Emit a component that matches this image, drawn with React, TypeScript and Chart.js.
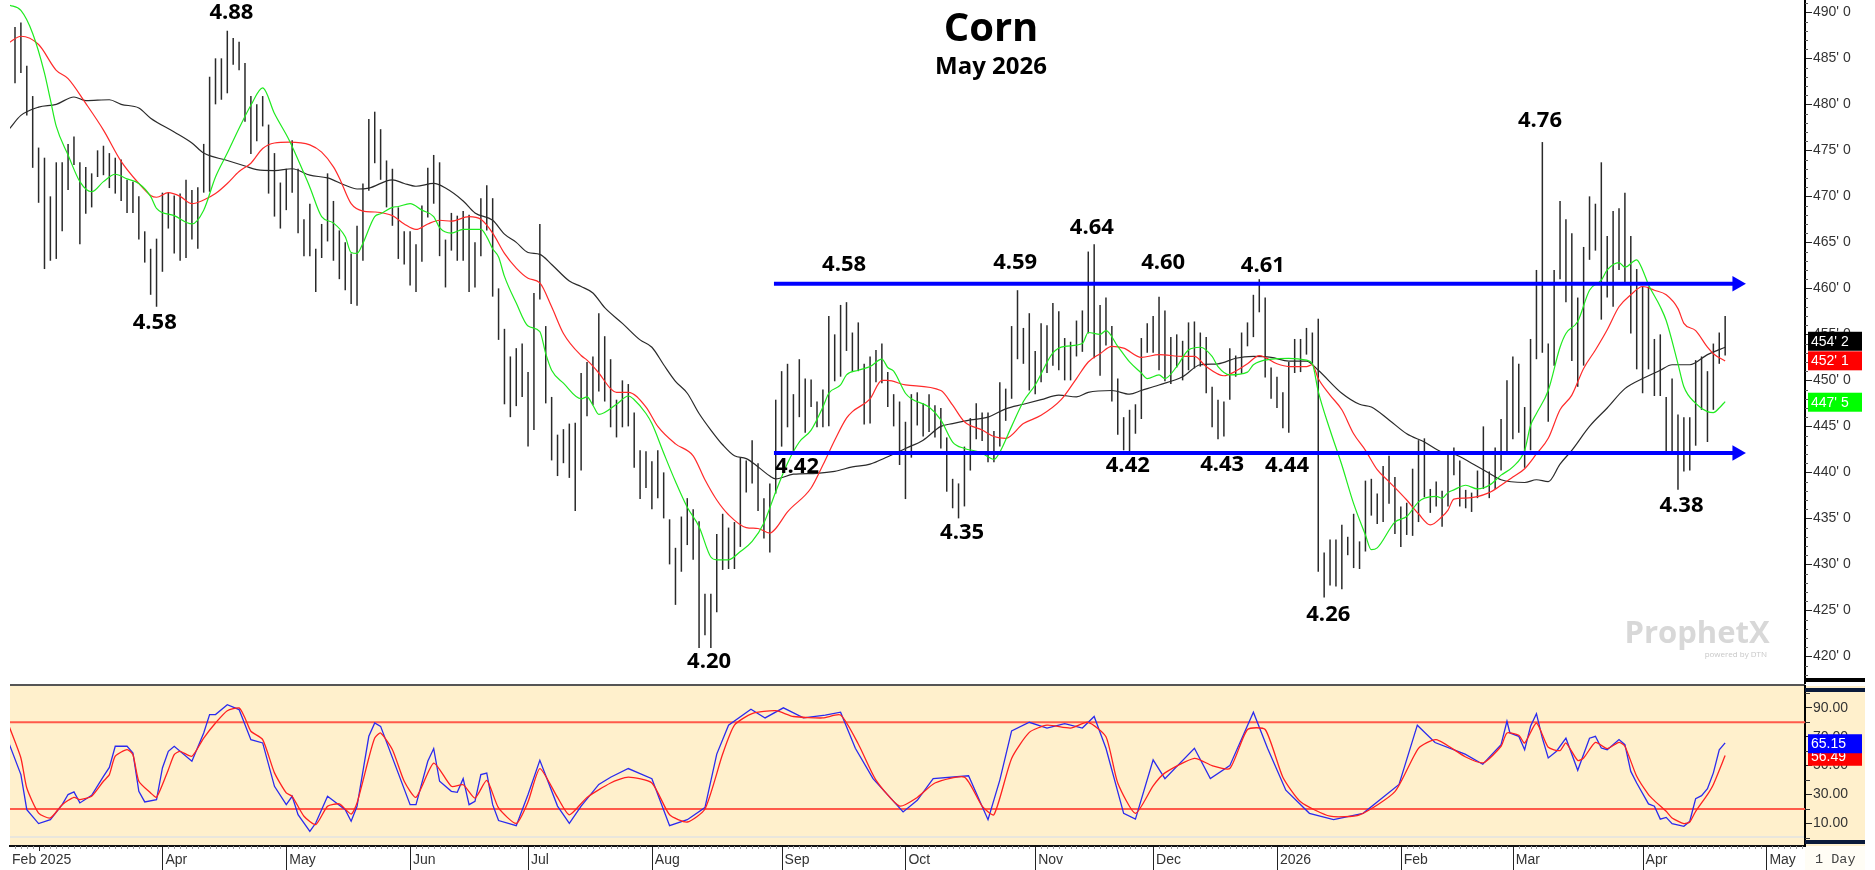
import React, { useEffect, useRef } from "react";
import { Chart, registerables } from "chart.js";

Chart.register(...registerables);

const barHighs = [
488.4,488.9,484.2,480.9,475.3,474.2,470.0,473.7,473.7,475.7,476.5,473.7,473.2,472.5,475.0,475.5,474.7,474.2,474.0,471.8,
471.6,470.0,466.2,464.3,465.4,470.4,470.4,470.1,470.3,471.8,470.7,471.0,475.7,483.0,485.0,485.0,488.0,487.2,486.8,484.5,
480.9,480.0,480.9,477.8,474.7,471.5,473.0,476.1,473.0,467.5,469.2,464.3,467.0,472.5,469.5,466.3,465.0,463.8,466.8,471.4,
478.4,479.2,477.3,473.9,473.0,468.8,466.2,466.2,464.8,469.0,473.1,474.5,473.7,465.3,468.2,467.9,468.4,468.0,465.0,469.8,
471.2,469.8,460.0,455.6,452.6,453.5,454.0,450.9,459.5,467.0,455.9,448.2,444.1,444.7,445.3,445.4,450.8,452.0,452.6,457.3,
454.8,452.3,447.9,450.0,449.6,446.5,442.4,442.3,441.2,442.4,440.0,434.9,431.8,435.2,437.2,436.0,434.7,426.8,426.8,433.3,
435.5,434.0,434.6,441.6,441.3,443.5,441.0,437.2,438.8,447.9,451.0,451.8,448.5,452.3,450.2,450.1,447.7,449.0,457.0,455.0,
458.2,458.5,455.2,456.3,451.8,452.6,453.3,454.0,450.9,448.5,447.7,445.5,448.5,448.7,447.5,448.5,447.3,447.0,443.8,439.3,
438.8,442.8,445.9,447.5,446.5,446.5,444.5,449.8,449.1,455.9,459.8,455.7,457.3,453.2,456.2,456.0,458.4,457.5,454.6,454.2,
456.5,457.6,464.0,464.8,458.2,459.0,455.9,450.2,446.0,446.8,447.4,454.6,456.2,457.0,459.1,457.6,454.7,455.0,454.3,456.3,
456.4,455.2,454.7,449.3,447.9,447.7,453.5,452.7,455.2,456.3,459.3,461.0,459.0,451.4,450.4,448.7,452.0,454.5,454.5,455.7,
455.2,456.7,431.3,432.7,432.7,434.3,433.0,435.5,432.5,439.1,439.3,437.7,440.7,441.8,439.5,436.3,436.7,440.4,443.5,443.7,
438.2,439.0,438.0,442.1,442.7,441.3,438.1,437.8,440.2,445.0,440.1,442.7,445.8,450.0,452.6,451.8,447.1,454.5,462.0,475.9,
454.0,462.0,469.5,467.5,466.0,459.0,464.5,470.0,469.2,473.7,465.7,468.4,468.7,470.4,465.7,462.1,460.2,460.2,454.5,455.0,
448.2,450.2,446.3,446.0,446.0,452.2,452.6,451.0,454.0,455.2,457.0];

const barLows = [
482.3,483.4,478.8,473.1,469.3,462.1,463.0,463.2,466.2,470.7,473.4,464.8,468.1,468.8,472.1,472.3,470.9,470.3,469.5,468.2,
468.2,465.3,462.8,459.3,458.0,461.8,466.5,463.8,463.0,463.3,465.3,464.3,470.4,470.5,480.0,480.5,481.2,484.3,483.7,478.1,
474.6,476.0,477.6,470.3,467.8,466.5,468.5,470.4,466.0,463.5,463.5,459.6,463.3,465.1,463.0,461.0,459.8,458.3,458.1,463.0,
470.6,473.6,471.8,468.8,466.8,463.2,462.6,460.3,459.6,462.9,467.7,469.2,463.5,460.1,464.1,463.0,463.0,459.6,460.1,463.5,
466.3,459.1,454.4,447.4,446.0,447.2,448.2,442.8,444.6,458.8,447.5,441.3,439.6,441.0,439.4,435.8,440.2,446.1,447.3,448.8,
447.7,444.9,443.8,444.9,445.0,440.5,437.1,438.3,436.0,437.2,435.0,430.0,425.6,429.2,432.1,430.5,420.9,422.3,420.9,424.8,
429.4,429.5,429.5,431.9,437.8,438.8,435.8,432.8,431.3,437.7,442.8,444.9,442.1,446.0,444.3,447.1,444.9,444.9,445.0,449.9,
450.4,453.2,451.0,451.0,445.2,445.3,449.8,449.7,447.1,445.0,440.8,437.1,441.6,445.1,443.9,444.4,443.8,442.6,437.9,436.1,
435.0,436.3,440.2,443.6,443.4,441.1,441.1,442.8,445.6,448.0,452.3,451.8,448.9,448.5,449.8,450.8,451.6,451.1,450.0,450.0,
452.6,453.1,455.1,452.4,450.5,453.8,447.7,444.1,442.4,442.3,444.2,445.8,453.0,453.0,451.1,449.9,449.6,451.4,450.0,451.1,
451.3,451.5,448.6,444.9,443.6,443.9,447.9,450.4,450.7,453.7,454.7,457.4,450.3,448.0,447.0,444.8,444.3,450.8,450.9,452.8,
451.8,429.2,426.4,427.7,427.6,427.3,431.0,429.6,429.5,431.4,435.3,434.4,434.6,436.6,433.3,431.9,433.2,433.1,434.6,437.3,
435.6,436.3,434.1,436.3,439.7,436.3,436.1,435.7,437.2,438.2,437.2,438.2,440.2,442.1,443.6,444.3,440.5,442.4,452.3,453.0,
445.5,451.6,461.0,458.5,452.1,449.3,451.6,463.1,464.1,456.6,459.0,458.0,462.0,460.7,455.1,451.2,448.6,451.2,448.3,448.3,
442.3,442.3,438.1,440.1,440.2,442.9,446.8,443.3,446.8,451.8,452.7];

const greenMA: [number, number][] = [
[-1,490.8],[1,490.2],[3,487.7],[5,483.4],[6,480.5],[7,477.6],[9,474.5],[11,471.6],[13,470.5],[15,471.6],[17,472.4],[19,471.9],[21,471.4],[23,470],[24,468.7],[27,467.9],[30,467],[32,468.5],[34,472.1],[36,474.7],[38,477.4],[40,479.9],[42,481.8],[44,479],[46.5,476.1],
[49,472.5],[50,471],[52,467.8],[54,467.1],[56,465.6],[57,463.9],[58,463.8],[59,464.9],[61,467.8],[62,468.1],[64,468.8],[65,468.9],[67,469.2],[69,468.5],[71,467.8],[72,466.6],[74,466],[76,466.4],[79,466.4],[80,465.6],[81,464.3],[82,463.4],[83,461.3],[85,458.4],[87,455.9],[89,455.3],[90,452.9],[91,451.1],[93,449.7],[96,448.0],
[97,448.2],[98,447.3],[99,446.3],[102,447.4],[104,448.3],[105,447.9],[107,446.4],[108,445.3],[110,442.1],[112,439],[114,436.2],[116,434.1],[118,430.8],[119,430.5],[121,430.5],[123,431.4],[125,432.5],[127,434.5],[129,437.9],[131,441],[133,443.3],[135,444.6],[137,447.1],[138,448.6],[140,449.5],[141,450.6],[143,451.1],[145,451.5],
[147,452.3],[148,451.4],[149,451],[151,448.6],[152,448],[155,447.1],[157,445.7],[159,443.3],[161,442.6],[163.6,442.2],[165,441.7],[166,441.4],[167,442.2],[169,445],[171,447.7],[173,449.5],[176,453],[178,453.7],[181,454],[182,455.2],[184,455],[185,455.4],[187,453.7],[189,452],[191,450.8],[192,450.2],[194,450.6],
[195,450.2],[197,451.5],[199,453.3],[201,453.6],[203,452.6],[204,451.5],[206,450.6],[209,450.9],[210,451.7],[213,452.3],[216,452.4],[219,452.2],[220,451.8],[221,448.8],[223,444.6],[225,440.8],[227,436.6],[229,433.2],[230,431.6],[231,431.8],[234,434.6],[236,435.2],[238,436.8],[239,437.2],[241,437.4],[242,437.2],[243,437.8],
[244,438.1],[246,438.6],[248,438.2],[250,438.6],[252,439.7],[254,440.6],[256,442.4],[257,445.1],[258,446.4],[260,448.9],[262,453.6],[263,455.1],[265,456.4],[267,459.8],[269,460.9],[270,462],[272,462.8],[273,462.3],[275,463.1],[276,462],[277,460.4],[279,458],[280,456.5],[282,451.8],[283,449.3],[285,447.5],[287,446.6],[288,446.5],[289,447],[290,447.7]];

const redMA: [number, number][] = [
[-1,486.7],[1,487.4],[4,486.5],[7,483.7],[9,482.8],[12,480.1],[15,477.2],[18,473.8],[21,471.4],[23,470.1],[24,469.9],[26,470.4],[28,470],[30,469.2],[32,469.6],[34,470.3],[36,471.4],[38,472.7],[40,473.6],[42,475.2],[44,475.8],[46.5,475.9],
[50,475.6],[52,474.8],[54,473.2],[55,472],[57,469.2],[59,468.4],[61,468.3],[64,467.9],[66,467],[68,466.4],[70,467],[72,467.4],[74,467.3],[77,467.8],[79,467.5],[81,466],[83,463.8],[85,462.2],[87,461.1],[89,460.6],[91,458],[93,455.1],[96,452.7],
[97,452.2],[99,450.8],[101,449.1],[102,448.7],[104,448.7],[107,447.1],[109,445],[112,443.1],[115,441.8],[117,439.2],[119,437],[121,435.4],[124,434],[126,433.9],[128,433.4],[129,433.9],[131,435.7],[135,438.3],[137,440.8],[139,443.5],[141,445.9],[142,446.6],[145,448],
[147,450],[148,450],[151,449.5],[157,448.9],[159,447.3],[161,445.5],[164,444.6],[166,443.9],[168,443.7],[171,445.3],[174,446.2],[177.4,447.9],[180,450.2],[182,452],[184,452.9],[186,453.7],[188,453.5],[191,452.5],[194,452.8],
[198,452.6],[200,452.6],[202,451.5],[205,450.5],[207,451],[209,451.8],[211,452.7],[214,451.8],[216,451.5],[219,451.5],[220,451.7],[221,450.2],[223,448.4],[225,446.8],[227,444.2],[229,442.4],[231,440.3],[233,439],[236,437],[238,435.5],[240,434.3],[242,435.2],[243,435.9],
[244,437.1],[246,437.2],[250,437.8],[252,438.6],[254,439.5],[256,440.4],[258,442],[260,443.7],[262,446.8],[264,448.4],[266,451.3],[268,453.3],[270,455.5],[272,458],[274,459.3],[276,460.2],[278,459.8],[280,459.3],[282,457.8],[283,456.2],[285,455.4],[287,453.6],[288,452.9],[290,452.1]];

const blackMA: [number, number][] = [
[-1,477.3],[1,478.8],[4,479.7],[7,480],[10,480.8],[12,480.4],[16,480.5],[18,480],[21,479.6],[23,478.5],[27,477],[30,475.8],[32,474.7],[36,473.9],[39,473.3],[41,472.9],[44,472.8],[47,473],
[50,472.3],[53,472],[56,471.2],[58,470.8],[60,470.9],[64,471.8],[66,471.4],[68,471.1],[71,471.4],[73,470.9],[76,469.5],[78,468.2],[81,467.4],[83,465.9],[85,465],[87,463.9],[89,463.7],[91,462.6],[94,460.8],[96,460.2],
[98,459.5],[100,457.9],[103,456.2],[106,454.4],[108,453.6],[110,451.7],[112,449.9],[114,448.6],[116,446.4],[118,444.6],[120,443],[122,441.8],[124,441.5],[126,440.6],[128,439.6],[129,439.3],[132,439.8],[136,439.9],[139,440.1],[142,440.6],[145,440.9],
[148,441.7],[151,442.6],[154,443.5],[157,445],[159,445.3],[162,445.7],[165,446],[168,446.9],[171,447.4],[174,447.9],[177,448.4],[180,448.2],[182,448.7],[186,448.9],[189,448.5],[191,448.9],[194,449.5],
[198,450.4],[201,451.7],[204,451.8],[207,452.4],[210,452.6],[213,452.5],[216,452.1],[219,452.1],[221,451.1],[225,448.6],[228,447.4],[230,447.1],[233,445.7],[236,444.2],[239,443.3],[242,442.2],[244,442],
[247,441],[250,439.9],[252,439.2],[256,438.9],[258,439.2],[260,439],[262,440.9],[264,442.4],[267,445],[270,447],[273,449.1],[276,450.2],[279,451.1],[281,451.7],[284,451.7],[287,452.8],[290,453.6]];

const stochK: [number, number][] = [
[-1,65.2],[1,43.8],[2,19.5],[4,9.9],[6,12.6],[8,23],[9,30],[10,31.8],[11,24.2],[13,29.5],[15,42.6],[16,48.8],[17,63.4],[19,63.4],[20,58.8],[21,32.2],[22,24.9],[24,26.5],[25,48.4],[26,59.9],[27,63.4],[30,53],[32,72.6],[33,85.3],[34,85.3],[36,92.2],[38,88.8],[40,68],[42,65.7],[44,35.7],[46,23],[47,28.8],[48,16.1],[50,4.6],[51,10.3],[53,28.8],[56,19.5],[57,11.5],[58,21.9],[60,70.3],[61,79.5],[62,77.2],[67,23],[68,23],[70,53],[71,61.8],[72,39.2],[74,32.2],[75,31.5],[76,41],[77,23],[78,25.3],[79,43.8],[80,44.9],[81,23],[82,12],
[85,8.5],[87,30],[89,53.7],[92,22],[94,10],[96,22],[99,37],[101,42],[104,48],[108,41],[111,8.5],[114,12.6],[117,21],[119,58],[121,78],[124.8,89],[127.2,83],[130.3,90],[133.7,83],[137.4,85],[140,87],[142.5,62],[145.5,41],[150.6,18],[153,26],[155.7,41],[161.7,43],[165,12.6],[167,40],[169,74],[172,80],[175,76],[178,79],[181,76],[183,84],[185,62],[188,17],[190,13],[193,54],[195,41],[200,62],[202.7,41],[206,50],[210,87],[212.4,62],[215.5,33],[219.5,17],[223.6,12.6],[228.6,17],[234.7,37],[237.8,78],[240.8,66],[245.9,58],[248.9,51],
[252,64.5],[253,80.7],[253.5,72.6],[255,70.3],[256,61],[257,77.2],[258,86],[259,69],[260,55.3],[261.4,60],[263,69],[265,46.8],[267,69],[268,70.3],[269,62.2],[270,61],[272,68],[273,64.5],[274,46],[275,38],[277,23.5],[278,21.9],[279,13],[280,14.2],[281,9.9],[283,8],[284,11.5],[285,27.2],[286,29.2],[287,34],[288,45],[289,61],[290,65.7]];

const stochD: [number, number][] = [
[-1,77.2],[1,55.3],[2,34.5],[4,17.2],[6,13.8],[8,23],[10,28.1],[11,26.5],[13,28.8],[15,39.2],[16,43.8],[17,56.5],[19,61.1],[20,57.6],[21,39.2],[23,31.1],[24,28.1],[26,47.2],[27,57.6],[28,59.9],[30,56.5],[32,69.1],[34,79.5],[36,88],[38,89.9],[39,83],[40,73.8],[42,68],[44,45],[46,31.1],[47,28.8],[49,15],[51,9.2],[53,21.9],[55,23.5],[57,16.5],[58,24.2],[60,55.3],[61,69.1],[62,72.6],[64,61],[66,39.2],[68,28.1],[71,51.8],[74,35.7],[76,36.8],[78,27.6],[80,39.8],[82,20.7],
[85,10],[87,25],[89,48],[92,28],[94,16],[97,28],[101,38],[104,42],[108,38],[111,16],[114,11],[117,20],[120,58],[122,78],[125,86],[129,88],[132,84],[137,83],[140,85],[143,65],[146,40],[150,22],[153,28],[156,38],[161,42],[164,22],[166,16],[169,55],[172,73],[175,78],[179,76],[182,80],[185,70],[187,38],[190,17],[193,36],[195,45],[200,55],[203,50],[206,48],[209,75],[212,75],[215,42],[218,25],[223,15],[228,16],[234,32],[238,62],[241,68],[246,56],[249,52],
[252,63.4],[253,72.6],[255,71],[256,65.7],[258,79.5],[260,62.7],[262,60.4],[263,65.7],[265,53.5],[266,55.3],[268,66.1],[270,61.8],[272,66.1],[273,63.4],[275,42.6],[277,30],[278,25.8],[280,18.4],[281,13.8],[283,9.9],[284,11],[285,18.4],[287,30],[288,37],[290,57]];

const priceTicks = [420,425,430,435,440,445,450,455,460,465,470,475,480,485,490];
const stochTicks = [10,30,50,70,90];
const stochMinorTicks = [0,20,40,60,80,100];
const stochLevels = [80,20];
const resistance = 460.5;
const support = 442.1;
const monthLabels = ["Feb 2025","Apr","May","Jun","Jul","Aug","Sep","Oct","Nov","Dec","2026","Feb","Mar","Apr","May"];
const monthIdx = [4,25,46,67,87,108,130,151,173,193,214,235,254,276,297];
const priceLabels: { text: string; i: number; p: number }[] = [
  { text: "4.88", i: 36.7, p: 490.0 },{ text: "4.58", i: 23.7, p: 456.3 },{ text: "4.20", i: 117.7, p: 419.4 },
  { text: "4.42", i: 132.6, p: 440.6 },{ text: "4.58", i: 140.6, p: 462.6 },{ text: "4.59", i: 169.6, p: 462.8 },
  { text: "4.64", i: 182.6, p: 466.6 },{ text: "4.60", i: 194.7, p: 462.8 },{ text: "4.61", i: 211.6, p: 462.5 },
  { text: "4.35", i: 160.6, p: 433.4 },{ text: "4.42", i: 188.7, p: 440.7 },{ text: "4.43", i: 204.7, p: 440.8 },
  { text: "4.44", i: 215.7, p: 440.7 },{ text: "4.26", i: 222.7, p: 424.5 },{ text: "4.76", i: 258.6, p: 478.2 },
  { text: "4.38", i: 282.6, p: 436.4 },
];
const priceBoxes = [
  { text: "452' 1", value: 452.125, bg: "#FF0000" },
  { text: "454' 2", value: 454.25, bg: "#000000" },
  { text: "447' 5", value: 447.625, bg: "#00FF00" },
];
const stochBoxes = [
  { text: "56.49", value: 56.49, bg: "#FF0000" },
  { text: "65.15", value: 65.15, bg: "#0000FF" },
];

const X_MIN = -0.848;
const X_MAX = 303.54;
const SANS = '"Liberation Sans", Arial, sans-serif';
const BOLD = '"Open Sans", "Noto Sans", sans-serif';
const pts = (a: [number, number][]) => a.map(([x, y]) => ({ x, y }));
const lineDs = (data: [number, number][], color: string, order: number, width = 1.2) => ({
  type: "line" as const, data: pts(data), borderColor: color, borderWidth: width, pointRadius: 0,
  tension: 0, cubicInterpolationMode: "monotone" as const, order,
});
const hLine = (y: number) => ({
  type: "line" as const,
  data: [{ x: 128.7, y }, { x: 292, y }],
  borderColor: "#0000FF", backgroundColor: "#0000FF", borderWidth: 4,
  pointRadius: [0, 9], pointStyle: "triangle", pointRotation: 90, pointBorderWidth: 0, order: 1,
});

const drawBox = (ctx: CanvasRenderingContext2D, y: number, text: string, bg: string) => {
  ctx.fillStyle = bg;
  ctx.fillRect(1808, y - 9.5, 54, 19);
  ctx.fillStyle = "#FFFFFF";
  ctx.font = `14px ${SANS}`;
  ctx.textAlign = "left";
  ctx.textBaseline = "middle";
  ctx.fillText(text, 1811, y + 0.5);
};

const topPlugin = {
  id: "topOverlay",
  beforeDatasetsDraw(chart: any) {
    const ctx = chart.ctx;
    ctx.save();
    ctx.textAlign = "center";
    ctx.textBaseline = "middle";
    ctx.fillStyle = "#D8D8D8";
    ctx.font = `bold 31px ${BOLD}`;
    ctx.fillText("ProphetX", 1697, 634);
    ctx.font = `8px ${BOLD}`;
    ctx.textAlign = "right";
    ctx.fillStyle = "#C8C8C8";
    ctx.fillText("powered by DTN", 1767, 655);
    ctx.restore();
  },
  afterDraw(chart: any) {
    const { ctx, scales } = chart;
    const { x, y } = scales;
    ctx.save();
    ctx.fillStyle = "#000";
    ctx.textAlign = "center";
    ctx.textBaseline = "middle";
    ctx.font = `bold 40px ${BOLD}`;
    ctx.fillText("Corn", 991, 30);
    ctx.font = `bold 24px ${BOLD}`;
    ctx.fillText("May 2026", 991, 67);
    ctx.font = `bold 22px ${BOLD}`;
    for (const l of priceLabels) ctx.fillText(l.text, x.getPixelForValue(l.i), y.getPixelForValue(l.p));
    ctx.strokeStyle = "#555";
    ctx.lineWidth = 1;
    const r = chart.chartArea.right;
    for (let v = 418; v <= 491; v++) {
      if (v % 5 === 0) continue;
      const py = Math.round(y.getPixelForValue(v)) + 0.5;
      ctx.beginPath();
      ctx.moveTo(r, py);
      ctx.lineTo(r + 3, py);
      ctx.stroke();
    }
    ctx.fillStyle = "#000";
    ctx.fillRect(1805, 678, 60, 4);
    for (const b of priceBoxes) drawBox(ctx, y.getPixelForValue(b.value), b.text, b.bg);
    ctx.restore();
  },
};

const bottomPlugin = {
  id: "bottomOverlay",
  beforeDraw(chart: any) {
    const ctx = chart.ctx;
    const { top, bottom, left, right } = chart.chartArea;
    ctx.save();
    ctx.fillStyle = "#FFF0CC";
    ctx.fillRect(left, top, right + 60 - left, bottom - top);
    ctx.fillStyle = "#FFFDF5";
    ctx.fillRect(right, bottom, 60, chart.height - bottom);
    ctx.fillStyle = "#E9E6DC";
    ctx.fillRect(left, bottom - 10, right - left, 2);
    ctx.fillStyle = "#555";
    ctx.fillRect(left, 0, right - left, 2);
    ctx.restore();
  },
  afterDraw(chart: any) {
    const { ctx, scales, chartArea } = chart;
    const { x, y } = scales;
    const { bottom, right } = chartArea;
    ctx.save();
    ctx.strokeStyle = "#999";
    ctx.lineWidth = 1;
    for (let i = 0; i <= 303; i++) {
      const px = Math.round(x.getPixelForValue(i)) + 0.5;
      ctx.beginPath();
      ctx.moveTo(px, bottom);
      ctx.lineTo(px, bottom + 3);
      ctx.stroke();
    }
    ctx.strokeStyle = "#222";
    monthIdx.forEach((m, k) => {
      const px = Math.round(x.getPixelForValue(m)) + 0.5;
      ctx.beginPath();
      ctx.moveTo(px, bottom);
      ctx.lineTo(px, k === 0 ? bottom + 5 : chart.height);
      ctx.stroke();
    });
    ctx.strokeStyle = "#333";
    for (const v of stochMinorTicks) {
      const py = Math.round(y.getPixelForValue(v)) + 0.5;
      ctx.beginPath();
      ctx.moveTo(right, py);
      ctx.lineTo(right + 5, py);
      ctx.stroke();
    }
    ctx.fillStyle = "#0A1A3A";
    ctx.fillRect(1805, 4, 60, 4);
    ctx.fillRect(1805, 156, 60, 4);
    for (const b of stochBoxes) drawBox(ctx, y.getPixelForValue(b.value), b.text, b.bg);
    ctx.fillStyle = "#444";
    ctx.font = '13.5px "Liberation Mono", monospace';
    ctx.textAlign = "left";
    ctx.textBaseline = "middle";
    ctx.fillText("1 Day", 1815, 175);
    ctx.restore();
  },
};

export default function App() {
  const topRef = useRef<HTMLCanvasElement>(null);
  const botRef = useRef<HTMLCanvasElement>(null);

  useEffect(() => {
    const yAxis = (min: number, max: number, list: number[], fmt: (v: number) => string) => ({
      position: "right" as const, min, max,
      afterBuildTicks: (a: any) => { a.ticks = list.map((value) => ({ value })); },
      afterFit: (a: any) => { a.width = 70; a.paddingTop = 0; a.paddingBottom = 0; },
      border: { color: "#000", width: 2 },
      grid: { drawOnChartArea: false, tickColor: "#222", tickLength: 7, tickWidth: 1 },
      ticks: { autoSkip: false, padding: 1, color: "#333", font: { family: SANS, size: 14 }, callback: (v: any) => fmt(Number(v)) },
    });

    const top = new Chart(topRef.current!, {
      type: "bar",
      data: {
        datasets: [
          hLine(resistance) as any,
          hLine(support) as any,
          lineDs(greenMA, "#1FEA1F", 2) as any,
          lineDs(redMA, "#FF2A2A", 3) as any,
          lineDs(blackMA, "#2A2A2A", 4) as any,
          {
            type: "bar",
            data: barHighs.map((h, i) => ({ x: i, y: [barLows[i], h] })),
            backgroundColor: "#2A2A2A",
            barThickness: 1.5,
            inflateAmount: 0,
            order: 5,
          } as any,
        ],
      },
      options: {
        animation: false, responsive: false, devicePixelRatio: 1,
        layout: { autoPadding: false, padding: { left: 10, right: 0, top: 0, bottom: 0 } },
        plugins: { legend: { display: false }, tooltip: { enabled: false } },
        scales: {
          x: { type: "linear", display: false, min: X_MIN, max: X_MAX, offset: false, grid: { display: false } },
          y: yAxis(417.0, 491.34, priceTicks, (v) => `${v}' 0`),
        },
      } as any,
      plugins: [topPlugin as any],
    });

    const bot = new Chart(botRef.current!, {
      type: "line",
      data: {
        datasets: [
          { data: [{ x: X_MIN, y: stochLevels[0] }, { x: X_MAX, y: stochLevels[0] }], borderColor: "#FF5A4A", borderWidth: 2, pointRadius: 0, order: 3 } as any,
          { data: [{ x: X_MIN, y: stochLevels[1] }, { x: X_MAX, y: stochLevels[1] }], borderColor: "#FF5A4A", borderWidth: 2, pointRadius: 0, order: 3 } as any,
          { data: pts(stochK), borderColor: "#2A2AEE", borderWidth: 1.3, pointRadius: 0, tension: 0, order: 2 } as any,
          { data: pts(stochD), borderColor: "#FF2020", borderWidth: 1.3, pointRadius: 0, tension: 0.2, order: 1 } as any,
        ],
      },
      options: {
        animation: false, responsive: false, devicePixelRatio: 1,
        layout: { autoPadding: false, padding: { left: 10, right: 0, top: 2, bottom: 0 } },
        plugins: { legend: { display: false }, tooltip: { enabled: false } },
        scales: {
          x: {
            type: "linear", min: X_MIN, max: X_MAX, offset: false,
            afterBuildTicks: (a: any) => {
              a.ticks = monthIdx.map((v, k) => ({ value: k === 0 ? -0.5 : v + 0.5 }));
            },
            afterFit: (a: any) => { a.height = 24; a.paddingLeft = 0; a.paddingRight = 0; },
            border: { color: "#111", width: 2 },
            grid: { display: false, drawTicks: false },
            ticks: {
              autoSkip: false, maxRotation: 0, minRotation: 0, align: "start", padding: 6, color: "#333",
              font: { family: SANS, size: 14 },
              callback: (_v: any, idx: number) => monthLabels[idx],
            },
          },
          y: yAxis(-5.6, 105.1, stochTicks, (v) => v.toFixed(2)),
        },
      } as any,
      plugins: [bottomPlugin as any],
    });

    return () => { top.destroy(); bot.destroy(); };
  }, []);

  return (
    <div style={{ position: "absolute", left: 0, top: 0, width: 1875, height: 870, background: "#fff", overflow: "hidden" }}>
      <canvas ref={topRef} width={1875} height={684} style={{ position: "absolute", left: 0, top: 0, display: "block" }} />
      <canvas ref={botRef} width={1875} height={186} style={{ position: "absolute", left: 0, top: 684, display: "block" }} />
    </div>
  );
}
